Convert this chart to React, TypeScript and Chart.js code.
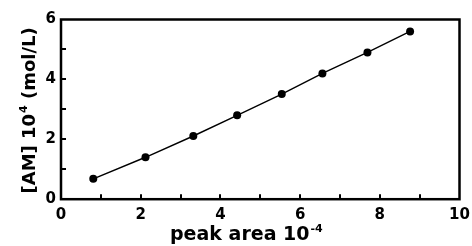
import React, { useEffect, useRef } from 'react';
import { Chart, registerables } from 'chart.js';

Chart.register(...registerables);

const peakArea = [0.81, 2.12, 3.32, 4.42, 5.54, 6.56, 7.69, 8.76];
const concentration = [0.68, 1.40, 2.11, 2.80, 3.51, 4.20, 4.90, 5.60];
const xTickValues = [0, 2, 4, 6, 8, 10];
const yTickValues = [0, 2, 4, 6];
const xMinorTicks = [1, 2, 3, 4, 5, 6, 7, 8, 9];
const yMinorTicks = [1, 2, 3, 4, 5];
const xTitle = 'peak area 10';
const xTitleSup = '-4';
const yTitleA = '[AM] 10';
const yTitleSup = '4';
const yTitleB = ' (mol/L)';

const FONT = '"DejaVu Sans", sans-serif';

const framePlugin = {
  id: 'frameAndTitles',
  afterDraw(chart: any) {
    const { ctx, chartArea } = chart;
    const xs = chart.scales.x;
    const ys = chart.scales.y;
    const { left, right, top, bottom } = chartArea;
    ctx.save();
    // inner ticks
    ctx.strokeStyle = '#000';
    ctx.lineWidth = 2;
    ctx.beginPath();
    xMinorTicks.forEach((v) => {
      const px = Math.round(xs.getPixelForValue(v));
      ctx.moveTo(px, bottom);
      ctx.lineTo(px, bottom - 5);
    });
    yMinorTicks.forEach((v) => {
      const py = Math.round(ys.getPixelForValue(v));
      ctx.moveTo(left, py);
      ctx.lineTo(left + 5, py);
    });
    ctx.stroke();
    // frame
    ctx.lineWidth = 2.5;
    ctx.strokeRect(left, top, right - left, bottom - top);

    ctx.fillStyle = '#000';
    // x title
    ctx.textBaseline = 'alphabetic';
    ctx.textAlign = 'left';
    ctx.font = `bold 19px ${FONT}`;
    const wx = ctx.measureText(xTitle).width;
    const sx = left + 109;
    const bx = bottom + 41;
    ctx.fillText(xTitle, sx, bx);
    ctx.font = `bold 11px ${FONT}`;
    ctx.fillText(xTitleSup, sx + wx + 1, bx - 8);

    // y title
    ctx.save();
    const cy = (top + bottom) / 2 + 1;
    ctx.translate(35, cy);
    ctx.rotate(-Math.PI / 2);
    ctx.font = `bold 18px ${FONT}`;
    const wa = ctx.measureText(yTitleA).width;
    const wb = ctx.measureText(yTitleB).width;
    ctx.font = `bold 11px ${FONT}`;
    const ws = ctx.measureText(yTitleSup).width;
    const total = wa + 1 + ws + wb;
    let px = -total / 2;
    ctx.font = `bold 18px ${FONT}`;
    ctx.fillText(yTitleA, px, 0);
    px += wa + 1;
    ctx.font = `bold 11px ${FONT}`;
    ctx.fillText(yTitleSup, px, -8);
    px += ws;
    ctx.font = `bold 18px ${FONT}`;
    ctx.fillText(yTitleB, px, 0);
    ctx.restore();

    ctx.restore();
  },
};

export default function App() {
  const ref = useRef<HTMLCanvasElement | null>(null);
  useEffect(() => {
    if (!ref.current) return;
    const chart = new Chart(ref.current, {
      type: 'scatter',
      data: {
        datasets: [
          {
            data: peakArea.map((x, i) => ({ x, y: concentration[i] })),
            showLine: true,
            borderColor: '#000',
            borderWidth: 1.4,
            backgroundColor: '#000',
            pointBackgroundColor: '#000',
            pointBorderColor: '#000',
            pointBorderWidth: 0,
            pointRadius: 4,
          },
        ],
      },
      options: {
        animation: false,
        responsive: false,
        devicePixelRatio: 1,
        layout: { padding: { left: 0, right: 12.5, top: 19.5, bottom: 0 } },
        plugins: { legend: { display: false }, tooltip: { enabled: false } },
        scales: {
          x: {
            type: 'linear',
            min: 0,
            max: 10,
            afterBuildTicks: (s: any) => {
              s.ticks = xTickValues.map((v) => ({ value: v }));
            },
            afterFit: (s: any) => {
              s.height = 46.8;
              s.paddingLeft = 0;
              s.paddingRight = 0;
            },
            grid: { display: false, drawTicks: false },
            border: { display: false },
            ticks: {
              padding: 7,
              color: '#000',
              font: { family: FONT, weight: 'bold', size: 15 },
              maxRotation: 0,
            },
          },
          y: {
            type: 'linear',
            min: 0,
            max: 6,
            afterBuildTicks: (s: any) => {
              s.ticks = yTickValues.map((v) => ({ value: v }));
            },
            afterFit: (s: any) => {
              s.width = 61;
              s.paddingTop = 0;
              s.paddingBottom = 0;
            },
            grid: { display: false, drawTicks: false },
            border: { display: false },
            ticks: {
              padding: 5,
              color: '#000',
              font: { family: FONT, weight: 'bold', size: 15 },
            },
          },
        },
      },
      plugins: [framePlugin],
    } as any);
    return () => chart.destroy();
  }, []);
  return (
    <div style={{ position: 'absolute', left: 0, top: 0, width: 472, height: 246, background: '#fff' }}>
      <canvas ref={ref} width={472} height={246} style={{ display: 'block', width: 472, height: 246 }} />
    </div>
  );
}
